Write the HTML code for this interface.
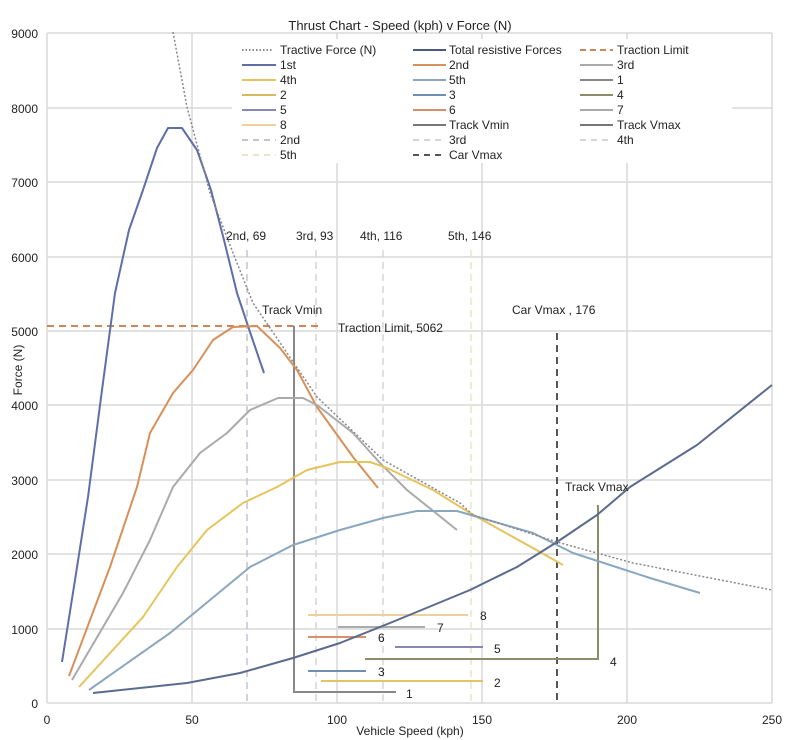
<!DOCTYPE html>
<html><head><meta charset="utf-8"><style>
body{margin:0;background:#fff}
svg{display:block;font-family:"Liberation Sans",sans-serif}
</style></head><body>
<svg width="800" height="740" viewBox="0 0 800 740" xmlns="http://www.w3.org/2000/svg">
<rect width="800" height="740" fill="#fff"/>
<g stroke="#d9d9d9" stroke-width="1.5" fill="none">
<line x1="47" y1="33" x2="772" y2="33"/>
<line x1="47" y1="108" x2="772" y2="108"/>
<line x1="47" y1="182" x2="772" y2="182"/>
<line x1="47" y1="257" x2="772" y2="257"/>
<line x1="47" y1="331" x2="772" y2="331"/>
<line x1="47" y1="405" x2="772" y2="405"/>
<line x1="47" y1="480" x2="772" y2="480"/>
<line x1="47" y1="554" x2="772" y2="554"/>
<line x1="47" y1="629" x2="772" y2="629"/>
<line x1="47" y1="703" x2="772" y2="703"/>
<line x1="47" y1="33" x2="47" y2="703"/>
<line x1="192" y1="33" x2="192" y2="703"/>
<line x1="337" y1="33" x2="337" y2="703"/>
<line x1="482" y1="33" x2="482" y2="703"/>
<line x1="627" y1="33" x2="627" y2="703"/>
<line x1="772" y1="33" x2="772" y2="703"/>
</g>
<rect x="232" y="39" width="500" height="124" fill="#fff"/>
<text x="400" y="30" font-size="13" text-anchor="middle" fill="#222">Thrust Chart - Speed (kph) v Force (N)</text>
<g font-size="12" fill="#222" text-anchor="end">
<text x="38" y="38">9000</text><text x="38" y="113">8000</text><text x="38" y="187">7000</text>
<text x="38" y="262">6000</text><text x="38" y="336">5000</text><text x="38" y="410">4000</text>
<text x="38" y="485">3000</text><text x="38" y="559">2000</text><text x="38" y="634">1000</text><text x="38" y="708">0</text>
</g>
<g font-size="12" fill="#222" text-anchor="middle">
<text x="47" y="724">0</text><text x="192" y="724">50</text><text x="337" y="724">100</text>
<text x="482" y="724">150</text><text x="627" y="724">200</text><text x="772" y="724">250</text>
<text x="410" y="735">Vehicle Speed (kph)</text>
</g>
<text transform="translate(22,370) rotate(-90)" font-size="12" text-anchor="middle" fill="#222">Force (N)</text>
<g stroke-dasharray="7,5" stroke-width="1.5" fill="none">
<line x1="247" y1="250" x2="247" y2="703" stroke="#c8c0d4"/>
<line x1="316" y1="250" x2="316" y2="703" stroke="#dcd2d0"/>
<line x1="383" y1="250" x2="383" y2="703" stroke="#d8d4dc"/>
<line x1="471" y1="250" x2="471" y2="703" stroke="#ece4c8"/>
<line x1="557" y1="333" x2="557" y2="703" stroke="#555" stroke-width="2"/>
<line x1="47" y1="326" x2="320" y2="326" stroke="#c9875a" stroke-width="2"/>
</g>
<g fill="none" stroke-width="2">
<polyline points="294,326 294,692 396,692" stroke="#888"/>
<polyline points="365,659 598,659 598,505" stroke="#8c8c6a"/>
<line x1="308" y1="615" x2="468" y2="615" stroke="#ecd29a"/>
<line x1="338" y1="627" x2="425" y2="627" stroke="#aaa"/>
<line x1="308" y1="637" x2="366" y2="637" stroke="#d8906a"/>
<line x1="395" y1="647" x2="483" y2="647" stroke="#8a86b8"/>
<line x1="308" y1="671" x2="366" y2="671" stroke="#6f8fb8"/>
<line x1="321" y1="681" x2="483" y2="681" stroke="#e3c464"/>
</g>
<g fill="none" stroke-width="2" stroke-linejoin="round">
<polyline stroke="#5f6ea8" points="62,662 75,580 88,497 102,390 115,293 129,230 143,190 157,148 168,128 182,128 197,150 211,190 224,240 237,293 251,335 264,373"/>
<polyline stroke="#d8905a" points="69,676 110,567 137,487 150,433 173,393 193,370 213,340 233,327 257,326 280,348 297,370 317,407 353,457 378,488"/>
<polyline stroke="#aaaaaa" points="72,680 123,593 150,540 173,487 200,453 227,433 250,410 278,398 303,398 317,405 353,433 380,463 407,490 457,530"/>
<polyline stroke="#e6c45c" points="79,687 143,617 177,567 207,530 243,503 277,487 307,470 340,462 370,462 387,468 433,490 470,513 540,552 563,565"/>
<polyline stroke="#8aa7bf" points="89,690 170,633 250,567 293,545 340,530 383,518 417,511 457,511 533,533 573,553 650,578 700,593"/>
<polyline stroke="#5b6b8e" points="93,693 187,683 240,673 293,658 340,643 390,623 470,590 517,567 557,542 597,515 630,487 697,445 772,385"/>
<polyline stroke="#888" stroke-width="1.5" stroke-dasharray="2,2" points="173,32 187,107 210,193 233,253 253,303 317,397 383,460 460,503 473,515 557,542 633,563 772,590"/>
</g>
<g font-size="12" fill="#222">
<text x="226" y="240">2nd, 69</text><text x="296" y="240">3rd, 93</text>
<text x="360" y="240">4th, 116</text><text x="448" y="240">5th, 146</text>
<text x="262" y="314">Track Vmin</text><text x="338" y="332">Traction Limit, 5062</text>
<text x="512" y="314">Car Vmax , 176</text><text x="565" y="491">Track Vmax</text>
<text x="480" y="620">8</text><text x="437" y="632">7</text><text x="378" y="642">6</text>
<text x="494" y="653">5</text><text x="610" y="666">4</text><text x="378" y="676">3</text>
<text x="494" y="687">2</text><text x="406" y="698">1</text>
</g>
<g stroke-width="2" fill="none">
<line x1="242" y1="50" x2="273" y2="50" stroke="#888" stroke-dasharray="1.5,2"/>
<line x1="413" y1="50" x2="446" y2="50" stroke="#4a5a80"/>
<line x1="580" y1="50" x2="613" y2="50" stroke="#c9875a" stroke-dasharray="6,4"/>
<line x1="242" y1="65" x2="276" y2="65" stroke="#5f6ea8"/>
<line x1="413" y1="65" x2="446" y2="65" stroke="#d8905a"/>
<line x1="580" y1="65" x2="613" y2="65" stroke="#aaa"/>
<line x1="242" y1="80" x2="276" y2="80" stroke="#e6c45c"/>
<line x1="413" y1="80" x2="446" y2="80" stroke="#8aa7bf"/>
<line x1="580" y1="80" x2="613" y2="80" stroke="#888"/>
<line x1="242" y1="95" x2="276" y2="95" stroke="#d8b864"/>
<line x1="413" y1="95" x2="446" y2="95" stroke="#6f8fb8"/>
<line x1="580" y1="95" x2="613" y2="95" stroke="#8c8c6a"/>
<line x1="242" y1="110" x2="276" y2="110" stroke="#8a86b8"/>
<line x1="413" y1="110" x2="446" y2="110" stroke="#d8906a"/>
<line x1="580" y1="110" x2="613" y2="110" stroke="#aaa"/>
<line x1="242" y1="125" x2="276" y2="125" stroke="#ecd29a"/>
<line x1="413" y1="125" x2="446" y2="125" stroke="#777"/>
<line x1="580" y1="125" x2="613" y2="125" stroke="#777"/>
<line x1="242" y1="140" x2="276" y2="140" stroke="#c8c0d4" stroke-dasharray="6,5"/>
<line x1="413" y1="140" x2="446" y2="140" stroke="#dcd2d0" stroke-dasharray="6,5"/>
<line x1="580" y1="140" x2="613" y2="140" stroke="#d8d4dc" stroke-dasharray="6,5"/>
<line x1="242" y1="155" x2="276" y2="155" stroke="#ece4c8" stroke-dasharray="6,5"/>
<line x1="413" y1="155" x2="446" y2="155" stroke="#555" stroke-dasharray="6,5"/>
</g>
<g font-size="12" fill="#222">
<text x="280" y="54">Tractive Force (N)</text><text x="449" y="54">Total resistive Forces</text><text x="617" y="54">Traction Limit</text>
<text x="280" y="69">1st</text><text x="449" y="69">2nd</text><text x="617" y="69">3rd</text>
<text x="280" y="84">4th</text><text x="449" y="84">5th</text><text x="617" y="84">1</text>
<text x="280" y="99">2</text><text x="449" y="99">3</text><text x="617" y="99">4</text>
<text x="280" y="114">5</text><text x="449" y="114">6</text><text x="617" y="114">7</text>
<text x="280" y="129">8</text><text x="449" y="129">Track Vmin</text><text x="617" y="129">Track Vmax</text>
<text x="280" y="144">2nd</text><text x="449" y="144">3rd</text><text x="617" y="144">4th</text>
<text x="280" y="159">5th</text><text x="449" y="159">Car Vmax</text>
</g>
</svg>
</body></html>
